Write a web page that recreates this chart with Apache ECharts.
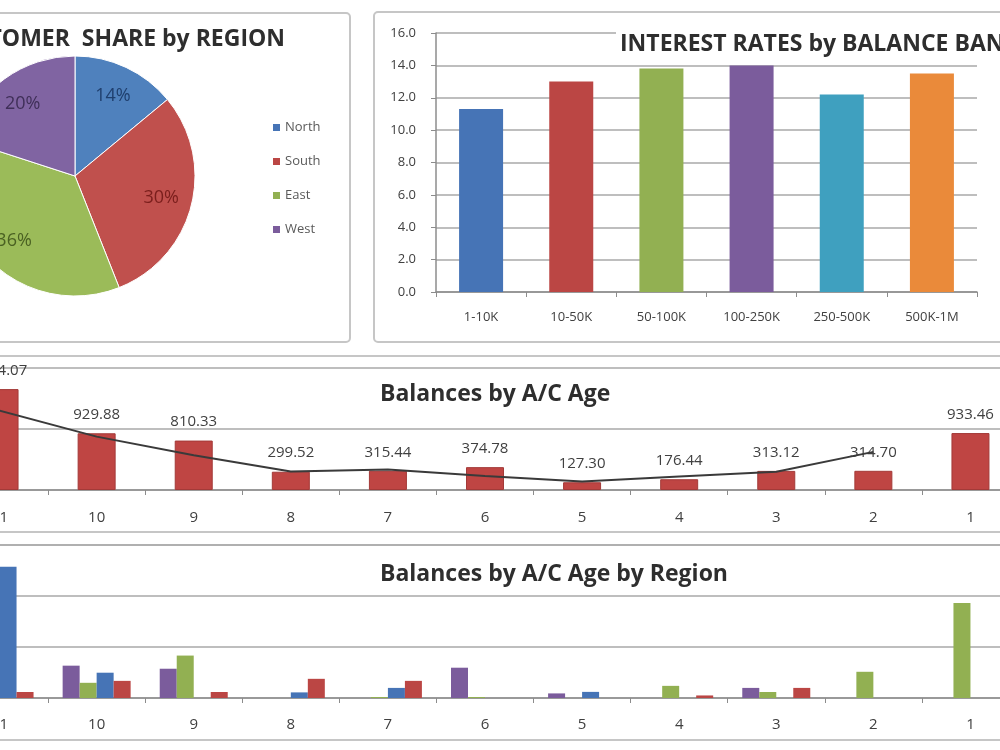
<!DOCTYPE html>
<html>
<head>
<meta charset="utf-8">
<title>Dashboard</title>
<script src="https://cdn.jsdelivr.net/npm/echarts@6/dist/echarts.min.js"></script>
<style>
  html, body { margin: 0; padding: 0; background: #fff; }
  #main { width: 1000px; height: 750px; }
</style>
</head>
<body>
<div id="main"></div>
<script>
// customer share (pie)
const regionNames = ['North', 'South', 'East', 'West']
const regionShare = [14, 30, 36, 20]

// interest rates by balance band
const balanceBands = ['1-10K', '10-50K', '50-100K', '100-250K', '250-500K', '500K-1M']
const interestRates = [11.3, 13.0, 13.8, 14.0, 12.2, 13.5]

// balances by a/c age
const acAges = ['11', '10', '9', '8', '7', '6', '5', '4', '3', '2', '1']
const balances = [1654.07, 929.88, 810.33, 299.52, 315.44, 374.78, 127.30, 176.44, 313.12, 314.70, 933.46]
const balanceTrend = [1300, 875, 570, 305, 335, 230, 140, 220, 300, 625, null]

// balances by a/c age by region
const westBalances = [160, 317, 287, 0, 0, 297, 45, 0, 99, 0, 0]
const eastBalances = [150, 149, 416, 0, 10, 10, 0, 119, 59, 257, 931]
const northBalances = [1287, 248, 0, 55, 99, 0, 60, 0, 0, 0, 0]
const southBalances = [59, 168, 59, 188, 168, 0, 0, 25, 99, 0, 0]

const font = '"Open Sans", Lato, sans-serif'
const pieColors = ['#4f81bd', '#c0504d', '#9bbb59', '#8064a2']
const pieLabelColors = ['#1f3f6e', '#7a1e1c', '#4a6122', '#3f2f58']
const bandColors = ['#4674b6', '#bb4644', '#92b052', '#7b5c9c', '#3fa0bf', '#ea8a3a']
const gridLine = { lineStyle: { color: '#a8a8a8', width: 1.5 } }
const axisText = { color: '#404040', fontFamily: font, fontSize: 15 }
const titleText = { fontSize: 23, fontWeight: 'bold', color: '#2e2e2e', fontFamily: font }

const myChart = echarts.init(document.getElementById('main'))

const panel = (x, y, w, h) => ({
  type: 'rect',
  shape: { x: x, y: y, width: w, height: h, r: 4 },
  style: { fill: 'none', stroke: '#c6c6c6', lineWidth: 2 },
  silent: true
})

var option = {
  backgroundColor: '#fff',
  animation: false,
  textStyle: { fontFamily: font },
  graphic: [
    panel(-10, 13, 360, 329),
    panel(374, 12, 700, 330),
    panel(-10, 356, 1020, 176),
    panel(-10, 545, 1020, 195)
  ],
  title: [
    {
      text: 'CUSTOMER  SHARE by REGION',
      right: 715, top: 28, padding: 0,
      textStyle: titleText
    },
    {
      text: 'INTEREST RATES by BALANCE BANDS',
      left: 616, top: 31, padding: [2, 4],
      backgroundColor: '#fff',
      textStyle: titleText
    },
    {
      text: 'Balances by A/C Age',
      left: 380, top: 383, padding: 0,
      textStyle: titleText
    },
    {
      text: 'Balances by A/C Age by Region',
      left: 380, top: 563, padding: 0,
      textStyle: titleText
    }
  ],
  legend: {
    data: regionNames,
    orient: 'vertical',
    left: 268, top: 116,
    icon: 'rect',
    itemWidth: 7, itemHeight: 7,
    itemGap: 21,
    textStyle: { color: '#595959', fontSize: 13, fontFamily: font }
  },
  grid: [
    { left: 436, right: 23, top: 33, bottom: 458, outerBoundsMode: 'none' },
    { left: -49, right: -19, top: 368, bottom: 260, outerBoundsMode: 'none' },
    { left: -49, right: -19, top: 545, bottom: 52, outerBoundsMode: 'none' }
  ],
  xAxis: [
    {
      gridIndex: 0, type: 'category', data: balanceBands,
      axisLine: { lineStyle: { color: '#8c8c8c', width: 1.5 } },
      axisTick: { show: true, length: 5, lineStyle: { color: '#8c8c8c' } },
      axisLabel: Object.assign({}, axisText, { margin: 19, fontSize: 13 })
    },
    {
      gridIndex: 1, type: 'category', data: acAges,
      axisLine: { lineStyle: { color: '#8c8c8c', width: 1.5 } },
      axisTick: { show: true, length: 5, lineStyle: { color: '#8c8c8c' } },
      axisLabel: Object.assign({}, axisText, { margin: 20 })
    },
    {
      gridIndex: 2, type: 'category', data: acAges,
      axisLine: { lineStyle: { color: '#8c8c8c', width: 1.5 } },
      axisTick: { show: true, length: 5, lineStyle: { color: '#8c8c8c' } },
      axisLabel: Object.assign({}, axisText, { margin: 19 })
    }
  ],
  yAxis: [
    {
      gridIndex: 0, type: 'value', min: 0, max: 16, interval: 2,
      axisLine: { show: true, lineStyle: { color: '#8c8c8c', width: 1.5 } },
      axisTick: { show: true, length: 5, lineStyle: { color: '#8c8c8c' } },
      splitLine: gridLine,
      axisLabel: Object.assign({}, axisText, { margin: 20, fontSize: 13, formatter: v => v.toFixed(1) })
    },
    {
      gridIndex: 1, type: 'value', min: 0, max: 2000, interval: 1000,
      axisLabel: { show: false }, axisLine: { show: false }, axisTick: { show: false },
      splitLine: gridLine
    },
    {
      gridIndex: 2, type: 'value', min: 0, max: 1500, interval: 500,
      axisLabel: { show: false }, axisLine: { show: false }, axisTick: { show: false },
      splitLine: gridLine
    }
  ],
  series: [
    {
      name: 'Share',
      type: 'pie',
      center: [75, 176],
      radius: 120,
      startAngle: 90,
      label: { show: false },
      labelLine: { show: false },
      itemStyle: { borderColor: '#fff', borderWidth: 1 },
      data: regionNames.map((n, i) => ({ name: n, value: regionShare[i], itemStyle: { color: pieColors[i] } }))
    },
    {
      // transparent ring, only used to place the % labels further out
      name: 'ShareLabels',
      type: 'pie',
      center: [75, 176],
      radius: [52, 120],
      startAngle: 90,
      silent: true,
      labelLine: { show: false },
      itemStyle: { color: 'rgba(0,0,0,0)' },
      label: { show: true, position: 'inside', formatter: '{c}%', fontSize: 18, fontFamily: font },
      data: regionNames.map((n, i) => ({
        name: n, value: regionShare[i],
        label: { color: pieLabelColors[i] }
      }))
    },
    {
      name: 'Interest',
      type: 'bar',
      xAxisIndex: 0, yAxisIndex: 0,
      barWidth: 44,
      data: interestRates.map((v, i) => ({ value: v, itemStyle: { color: bandColors[i] } }))
    },
    {
      name: 'Balance',
      type: 'bar',
      xAxisIndex: 1, yAxisIndex: 1,
      barWidth: 38,
      itemStyle: { color: '#bf4543', borderColor: '#a33a38', borderWidth: 1 },
      label: {
        show: true, position: 'top', distance: 11,
        color: '#404040', fontSize: 15, fontFamily: font,
        formatter: p => p.value.toFixed(2)
      },
      data: balances
    },
    {
      name: 'Trend',
      type: 'line',
      xAxisIndex: 1, yAxisIndex: 1,
      symbol: 'none',
      lineStyle: { color: '#3a3a3a', width: 2 },
      z: 5,
      data: balanceTrend
    },
    {
      name: 'West', type: 'bar', xAxisIndex: 2, yAxisIndex: 2,
      barWidth: 17, barGap: '0%', itemStyle: { color: '#7b5c9c' }, data: westBalances
    },
    {
      name: 'East', type: 'bar', xAxisIndex: 2, yAxisIndex: 2,
      barWidth: 17, barGap: '0%', itemStyle: { color: '#92b052' }, data: eastBalances
    },
    {
      name: 'North', type: 'bar', xAxisIndex: 2, yAxisIndex: 2,
      barWidth: 17, barGap: '0%', itemStyle: { color: '#4674b6' }, data: northBalances
    },
    {
      name: 'South', type: 'bar', xAxisIndex: 2, yAxisIndex: 2,
      barWidth: 17, barGap: '0%', itemStyle: { color: '#bb4644' }, data: southBalances
    }
  ]
}
myChart.setOption(option)
</script>
</body>
</html>
